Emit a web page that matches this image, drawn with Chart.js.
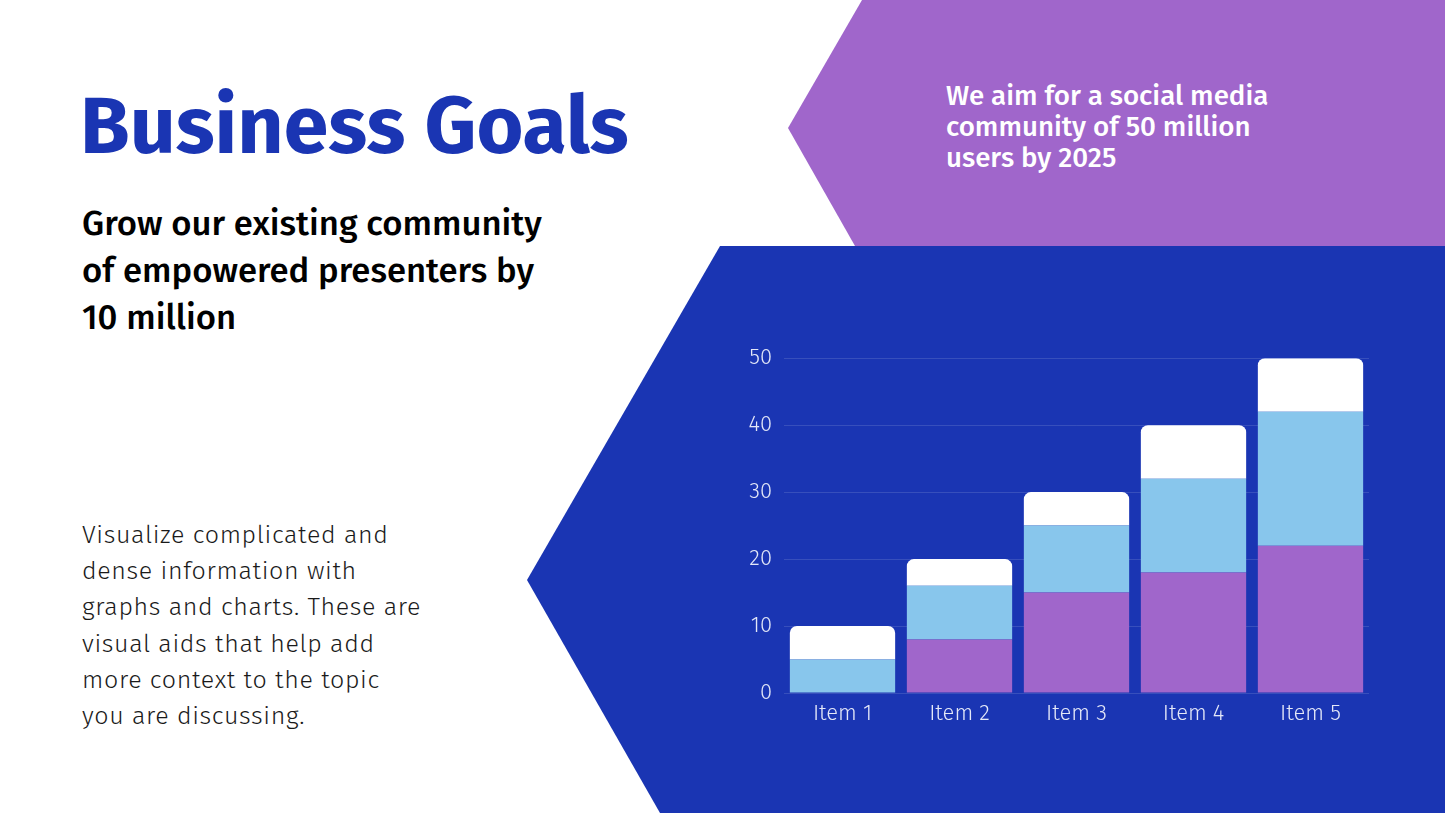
<!DOCTYPE html>
<html>
<head>
<meta charset="utf-8">
<script src="https://cdn.jsdelivr.net/npm/chart.js@4"></script>
<style>
  html, body { margin: 0; padding: 0; }
  body { width: 1445px; height: 813px; position: relative; overflow: hidden; background: #fff; font-family: "Fira Sans", "Noto Sans", sans-serif; }
  .shape { position: absolute; left: 0; top: 0; }
  h1 { position: absolute; left: 80px; top: 76px; margin: 0; font-size: 80.5px; font-weight: 700; color: #1a35b3; line-height: 100px; }
  .sub { position: absolute; left: 82px; top: 200px; margin: 0; font-size: 34.7px; font-weight: 500; line-height: 47px; color: #000; white-space: nowrap; }
  .body { position: absolute; left: 82px; top: 517px; margin: 0; font-size: 25px; font-weight: 300; line-height: 36.2px; color: #1a1a1a; white-space: nowrap; letter-spacing: 0.65px; }
  .aim { position: absolute; left: 946px; top: 80px; margin: 0; font-size: 27.7px; font-weight: 500; line-height: 31px; color: #fff; white-space: nowrap; }
  #wrap { position: absolute; left: 700px; top: 333px; width: 700px; height: 407px; }
</style>
</head>
<body>
<svg class="shape" width="1445" height="813">
  <polygon points="862,0 1445,0 1445,246 855,246 788,128" fill="#a066cb"/>
  <polygon points="720,246 1445,246 1445,813 660,813 527,580" fill="#1a35b3"/>
</svg>
<h1>Business Goals</h1>
<p class="sub">Grow our existing community<br>of empowered presenters by<br>10 million</p>
<p class="body">Visualize complicated and<br>dense information with<br>graphs and charts. These are<br>visual aids that help add<br>more context to the topic<br>you are discussing.</p>
<p class="aim">We aim for a social media<br>community of 50 million<br>users by 2025</p>
<div id="wrap"><canvas id="chart"></canvas></div>
<script>
const categories = ['Item 1', 'Item 2', 'Item 3', 'Item 4', 'Item 5'];
const series1 = [0, 8, 15, 18, 22];
const series2 = [5, 8, 10, 14, 20];
const series3 = [5, 4, 5, 8, 8];
const yTicks = [0, 10, 20, 30, 40, 50];

const tickFont = { family: '"Fira Sans", "Noto Sans", sans-serif', size: 22, weight: 300 };

new Chart(document.getElementById('chart'), {
  type: 'bar',
  data: {
    labels: categories,
    datasets: [
      { label: 'Series 1', data: series1, backgroundColor: '#a066cb' },
      { label: 'Series 2', data: series2, backgroundColor: '#88c6ec' },
      {
        label: 'Series 3', data: series3, backgroundColor: '#ffffff',
        borderRadius: { topLeft: 7, topRight: 7, bottomLeft: 0, bottomRight: 0 },
        borderSkipped: false
      }
    ]
  },
  options: {
    responsive: true,
    maintainAspectRatio: false,
    animation: false,
    layout: { padding: { left: 0, right: 31, top: 5, bottom: 0 } },
    datasets: { bar: { categoryPercentage: 1, barPercentage: 0.9 } },
    plugins: { legend: { display: false }, tooltip: { enabled: false } },
    scales: {
      x: {
        stacked: true,
        grid: { display: false, drawTicks: false },
        border: { display: false },
        ticks: { color: '#e4e8f8', font: tickFont, padding: 8 },
        afterFit: function (scale) { scale.height = 47; }
      },
      y: {
        stacked: true,
        min: 0,
        max: 50,
        afterBuildTicks: function (scale) { scale.ticks = yTicks.map(v => ({ value: v })); },
        grid: { color: 'rgba(255,255,255,0.13)', drawTicks: false },
        border: { display: false },
        ticks: { color: '#e4e8f8', font: tickFont, padding: 12 },
        afterFit: function (scale) { scale.width = 84; }
      }
    }
  }
});
</script>
</body>
</html>
